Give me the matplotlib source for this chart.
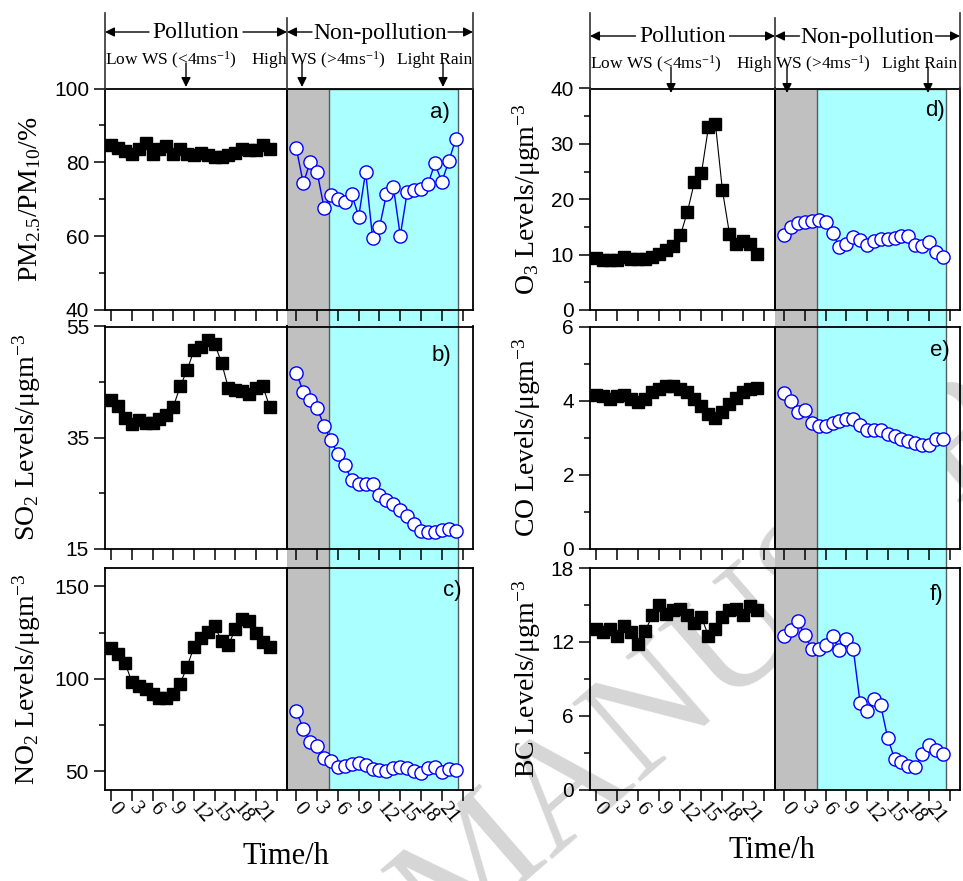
import numpy as np
import matplotlib
matplotlib.use('Agg')
import matplotlib.pyplot as plt
from matplotlib.lines import Line2D
from matplotlib.patches import FancyArrowPatch

plt.rcParams['font.family'] = 'Liberation Sans'
plt.rcParams['mathtext.default'] = 'regular'
SERIF = 'Liberation Serif'

W, H = 963, 881

hours = np.arange(24)
hour_ticks = np.arange(0, 25, 3)
hour_labels = ['0', '3', '6', '9', '12', '15', '18', '21', '']

# PM2.5/PM10 (%)
pm_pol = [84.7, 83.8, 83.0, 82.3, 83.5, 85.3, 82.3, 83.5, 84.3, 82.2, 83.5, 82.2,
          82.0, 82.6, 81.9, 81.4, 81.4, 81.9, 82.6, 83.5, 83.3, 83.3, 84.7, 83.7]
pm_non = [83.8, 74.3, 80.1, 77.3, 67.7, 71.1, 70.0, 69.3, 71.3, 65.3, 77.4, 59.6,
          62.4, 71.3, 73.4, 60.1, 71.9, 72.5, 72.7, 74.1, 79.7, 74.7, 80.3, 86.2]
# SO2
so2_pol = [41.7, 40.7, 38.6, 37.5, 38.1, 37.6, 37.7, 38.4, 39.0, 40.5, 44.2, 47.1,
           50.7, 51.3, 52.6, 51.9, 48.5, 43.9, 43.5, 43.3, 42.9, 44.0, 44.2, 40.5]
so2_non = [46.7, 43.2, 41.8, 40.4, 37.0, 34.5, 32.0, 30.0, 27.3, 26.6, 26.6, 26.6,
           24.6, 23.8, 23.1, 22.0, 20.8, 19.5, 18.2, 18.0, 18.0, 18.3, 18.6, 18.2]
# NO2
no2_pol = [116.8, 113.3, 108.7, 98.2, 96.0, 94.6, 91.5, 89.7, 89.7, 91.8, 97.3, 106.4,
           117.2, 122.0, 125.4, 128.6, 120.5, 118.3, 126.8, 132.3, 131.4, 125.0, 120.1, 117.4]
no2_non = [82.4, 72.8, 65.8, 63.4, 57.1, 55.3, 52.0, 52.6, 53.8, 54.3, 53.5, 51.3,
           50.7, 50.2, 51.6, 52.0, 51.6, 49.8, 48.9, 51.6, 52.0, 49.3, 51.3, 50.4]
# O3
o3_pol = [9.4, 9.1, 9.0, 9.1, 9.6, 9.2, 9.2, 9.3, 9.6, 10.2, 10.8, 11.5,
          13.5, 17.7, 23.1, 24.7, 33.0, 33.6, 21.6, 13.8, 12.0, 12.4, 11.9, 10.2]
o3_non = [13.5, 15.0, 15.7, 15.9, 16.0, 16.2, 15.9, 13.9, 11.4, 11.9, 13.1, 12.7,
          11.8, 12.4, 12.8, 12.9, 13.0, 13.4, 13.3, 11.7, 11.5, 12.3, 10.5, 9.5]
# CO
co_pol = [4.14, 4.11, 4.05, 4.11, 4.15, 4.03, 3.95, 4.03, 4.22, 4.32, 4.39, 4.39,
          4.32, 4.22, 4.03, 3.85, 3.63, 3.54, 3.68, 3.90, 4.08, 4.22, 4.31, 4.34]
co_non = [4.2, 4.0, 3.7, 3.75, 3.4, 3.3, 3.3, 3.4, 3.45, 3.5, 3.5, 3.35,
          3.2, 3.2, 3.2, 3.1, 3.05, 2.95, 2.9, 2.85, 2.8, 2.8, 2.95, 2.95]
# BC
bc_pol = [13.07, 12.8, 13.07, 12.5, 13.3, 12.8, 11.85, 12.9, 14.15, 15.0, 14.3, 14.6,
          14.7, 14.15, 13.5, 14.0, 12.5, 13.07, 14.0, 14.6, 14.7, 14.15, 14.9, 14.6]
bc_non = [12.47, 12.93, 13.66, 12.52, 11.44, 11.38, 11.76, 12.47, 11.3, 12.2, 11.44, 7.05,
          6.37, 7.32, 6.83, 4.2, 2.5, 2.22, 1.87, 1.82, 2.85, 3.58, 3.17, 2.85]

# label, pollution, non-pollution, major y ticks, tag
columns = [
    [('PM$_{2.5}$/PM$_{10}$/%', pm_pol, pm_non, [40, 60, 80, 100], 'a)'),
     ('SO$_2$ Levels/μgm$^{-3}$', so2_pol, so2_non, [15, 35, 55], 'b)'),
     ('NO$_2$ Levels/μgm$^{-3}$', no2_pol, no2_non, [50, 100, 150], 'c)')],
    [('O$_3$ Levels/μgm$^{-3}$', o3_pol, o3_non, [0, 10, 20, 30, 40], 'd)'),
     ('CO Levels/μgm$^{-3}$', co_pol, co_non, [0, 2, 4, 6], 'e)'),
     ('BC Levels/μgm$^{-3}$', bc_pol, bc_non, [0, 6, 12, 18], 'f)')],
]
ylims = [[(40, 100), (15, 55), (40, 160)],
         [(0, 40), (0, 6), (0, 18)]]

xlim_pol = (-0.9, 25.5)
xlim_non = (-1.35, 25.5)
gray_end = 4.7
cyan_end = 23.4

col_x = [(105, 287, 473), (590, 775, 960)]
row_y = [(88.5, 310), (326.5, 548.5), (568, 789.5)]
label_x = [-0.34, -0.254]
tag_pos = [[(0.82, 0.89), (0.83, 0.87), (0.89, 0.90)],
           [(0.865, 0.90), (0.89, 0.89), (0.87, 0.88)]]


def rect(x0, x1, y0, y1):
    return [x0 / W, 1 - y1 / H, (x1 - x0) / W, (y1 - y0) / H]


def fig_line(x, ya, yb):
    fig.add_artist(Line2D([x / W, x / W], [1 - ya / H, 1 - yb / H],
                          transform=fig.transFigure, color='#333333', lw=1.2))


def fig_arrow(xa, ya, xb, yb):
    fig.add_artist(FancyArrowPatch((xa / W, 1 - ya / H), (xb / W, 1 - yb / H),
                                   transform=fig.transFigure, arrowstyle='-|>',
                                   mutation_scale=14, color='k', lw=1,
                                   shrinkA=0, shrinkB=0, zorder=5))


def style_axis(ax):
    for s in ax.spines.values():
        s.set_linewidth(1.3)
    ax.set_xticks(hour_ticks)
    ax.tick_params(axis='x', which='major', direction='out', length=8, width=1.1)
    ax.tick_params(axis='y', which='major', direction='out', length=8, width=1.1,
                   labelsize=15)
    ax.tick_params(axis='y', which='minor', direction='out', length=4, width=1.1)


fig = plt.figure(figsize=(W / 100, H / 100), dpi=100)

# watermark
fig.text(804 / W, 1 - 585 / H, 'MANUSCRIPT', rotation=41, rotation_mode='anchor',
         ha='center', va='center', fontsize=114, color='#d6d6d6', family=SERIF,
         zorder=-1)

for c, panels in enumerate(columns):
    x0, xm, x1 = col_x[c]
    bg = fig.add_axes(rect(xm, x1, row_y[0][0], row_y[2][1]), zorder=0)
    bg.set_xlim(xlim_non)
    bg.set_ylim(0, 1)
    bg.axis('off')
    bg.axvspan(xlim_non[0], gray_end, color='#c0c0c0', lw=0)
    bg.axvspan(gray_end, cyan_end, facecolor='#aaffff', edgecolor='#4f6060', lw=1)

    for r, (label, pol, non, yt, tag) in enumerate(panels):
        y0, y1 = row_y[r]
        axl = fig.add_axes(rect(x0, xm, y0, y1), zorder=1, facecolor='none')
        axr = fig.add_axes(rect(xm, x1, y0, y1), zorder=1, facecolor='none')

        axl.plot(hours, pol, '-s', color='k', lw=0.8, ms=8, mfc='k', mec='k')
        axr.plot(hours, non, '-o', color='#0000ff', lw=1, ms=9.5,
                 mfc='white', mec='#0000ff', mew=1)

        for ax in (axl, axr):
            style_axis(ax)
            ax.set_ylim(ylims[c][r])
            if r == 2:
                ax.set_xticklabels(hour_labels)
                for t in ax.get_xticklabels():
                    t.set_rotation(-50)
                    t.set_rotation_mode('anchor')
                    t.set_ha('left')
                    t.set_va('center')
                    t.set_family(SERIF)
                    t.set_fontsize(15)
            else:
                ax.set_xticklabels([])
        axl.set_xlim(xlim_pol)
        axr.set_xlim(xlim_non)

        axl.set_yticks(yt)
        yt_arr = np.array(yt, dtype=float)
        axl.set_yticks((yt_arr[:-1] + yt_arr[1:]) / 2, minor=True)
        axl.set_ylabel(label, family=SERIF, fontsize=20)
        axl.yaxis.set_label_coords(label_x[c], 0.5)

        axr.set_yticks([])
        axr.text(tag_pos[c][r][0], tag_pos[c][r][1], tag, transform=axr.transAxes,
                 ha='center', va='center', fontsize=16)

    # x-axis title
    fig.text(((x0 + x1) / 2 - 3) / W, 1 - (857 - 7 * c) / H, 'Time/h',
             ha='center', va='center', family=SERIF, fontsize=22)

    # header: periods and meteorology
    dy = 4 * c
    fig_line(x0, 13, 88.5)
    fig_line(xm, 18, 88.5)
    fig_line(x1, 13, 88.5)
    cp = (x0 + xm) / 2
    cn = (xm + x1) / 2
    fig.text(cp / W, 1 - (33 + dy) / H, 'Pollution', ha='center', va='center',
             family=SERIF, fontsize=17)
    fig.text(cn / W, 1 - (33 + dy) / H, 'Non-pollution', ha='center', va='center',
             family=SERIF, fontsize=17)
    fig_arrow(cp - 47, 32 + dy, x0, 32 + dy)
    fig_arrow(cp + 47, 32 + dy, xm, 32 + dy)
    fig_arrow(cn - 68, 32 + dy, xm, 32 + dy)
    fig_arrow(cn + 68, 32 + dy, x1, 32 + dy)

    fig.text((x0 + 66) / W, 1 - (60 + dy) / H, 'Low WS (<4ms$^{-1}$)', ha='center',
             va='center', family=SERIF, fontsize=12.5)
    fig.text((x0 + 213) / W, 1 - (60 + dy) / H, 'High WS (>4ms$^{-1}$)', ha='center',
             va='center', family=SERIF, fontsize=12.5)
    fig.text((x0 + 330) / W, 1 - (60 + dy) / H, 'Light Rain', ha='center',
             va='center', family=SERIF, fontsize=12.5)
    for ax_off in (81, 197, 338):
        fig_arrow(x0 + ax_off, 63 + dy, x0 + ax_off, 87 + 1.5 * dy)

fig.savefig('out.png', dpi=100)
